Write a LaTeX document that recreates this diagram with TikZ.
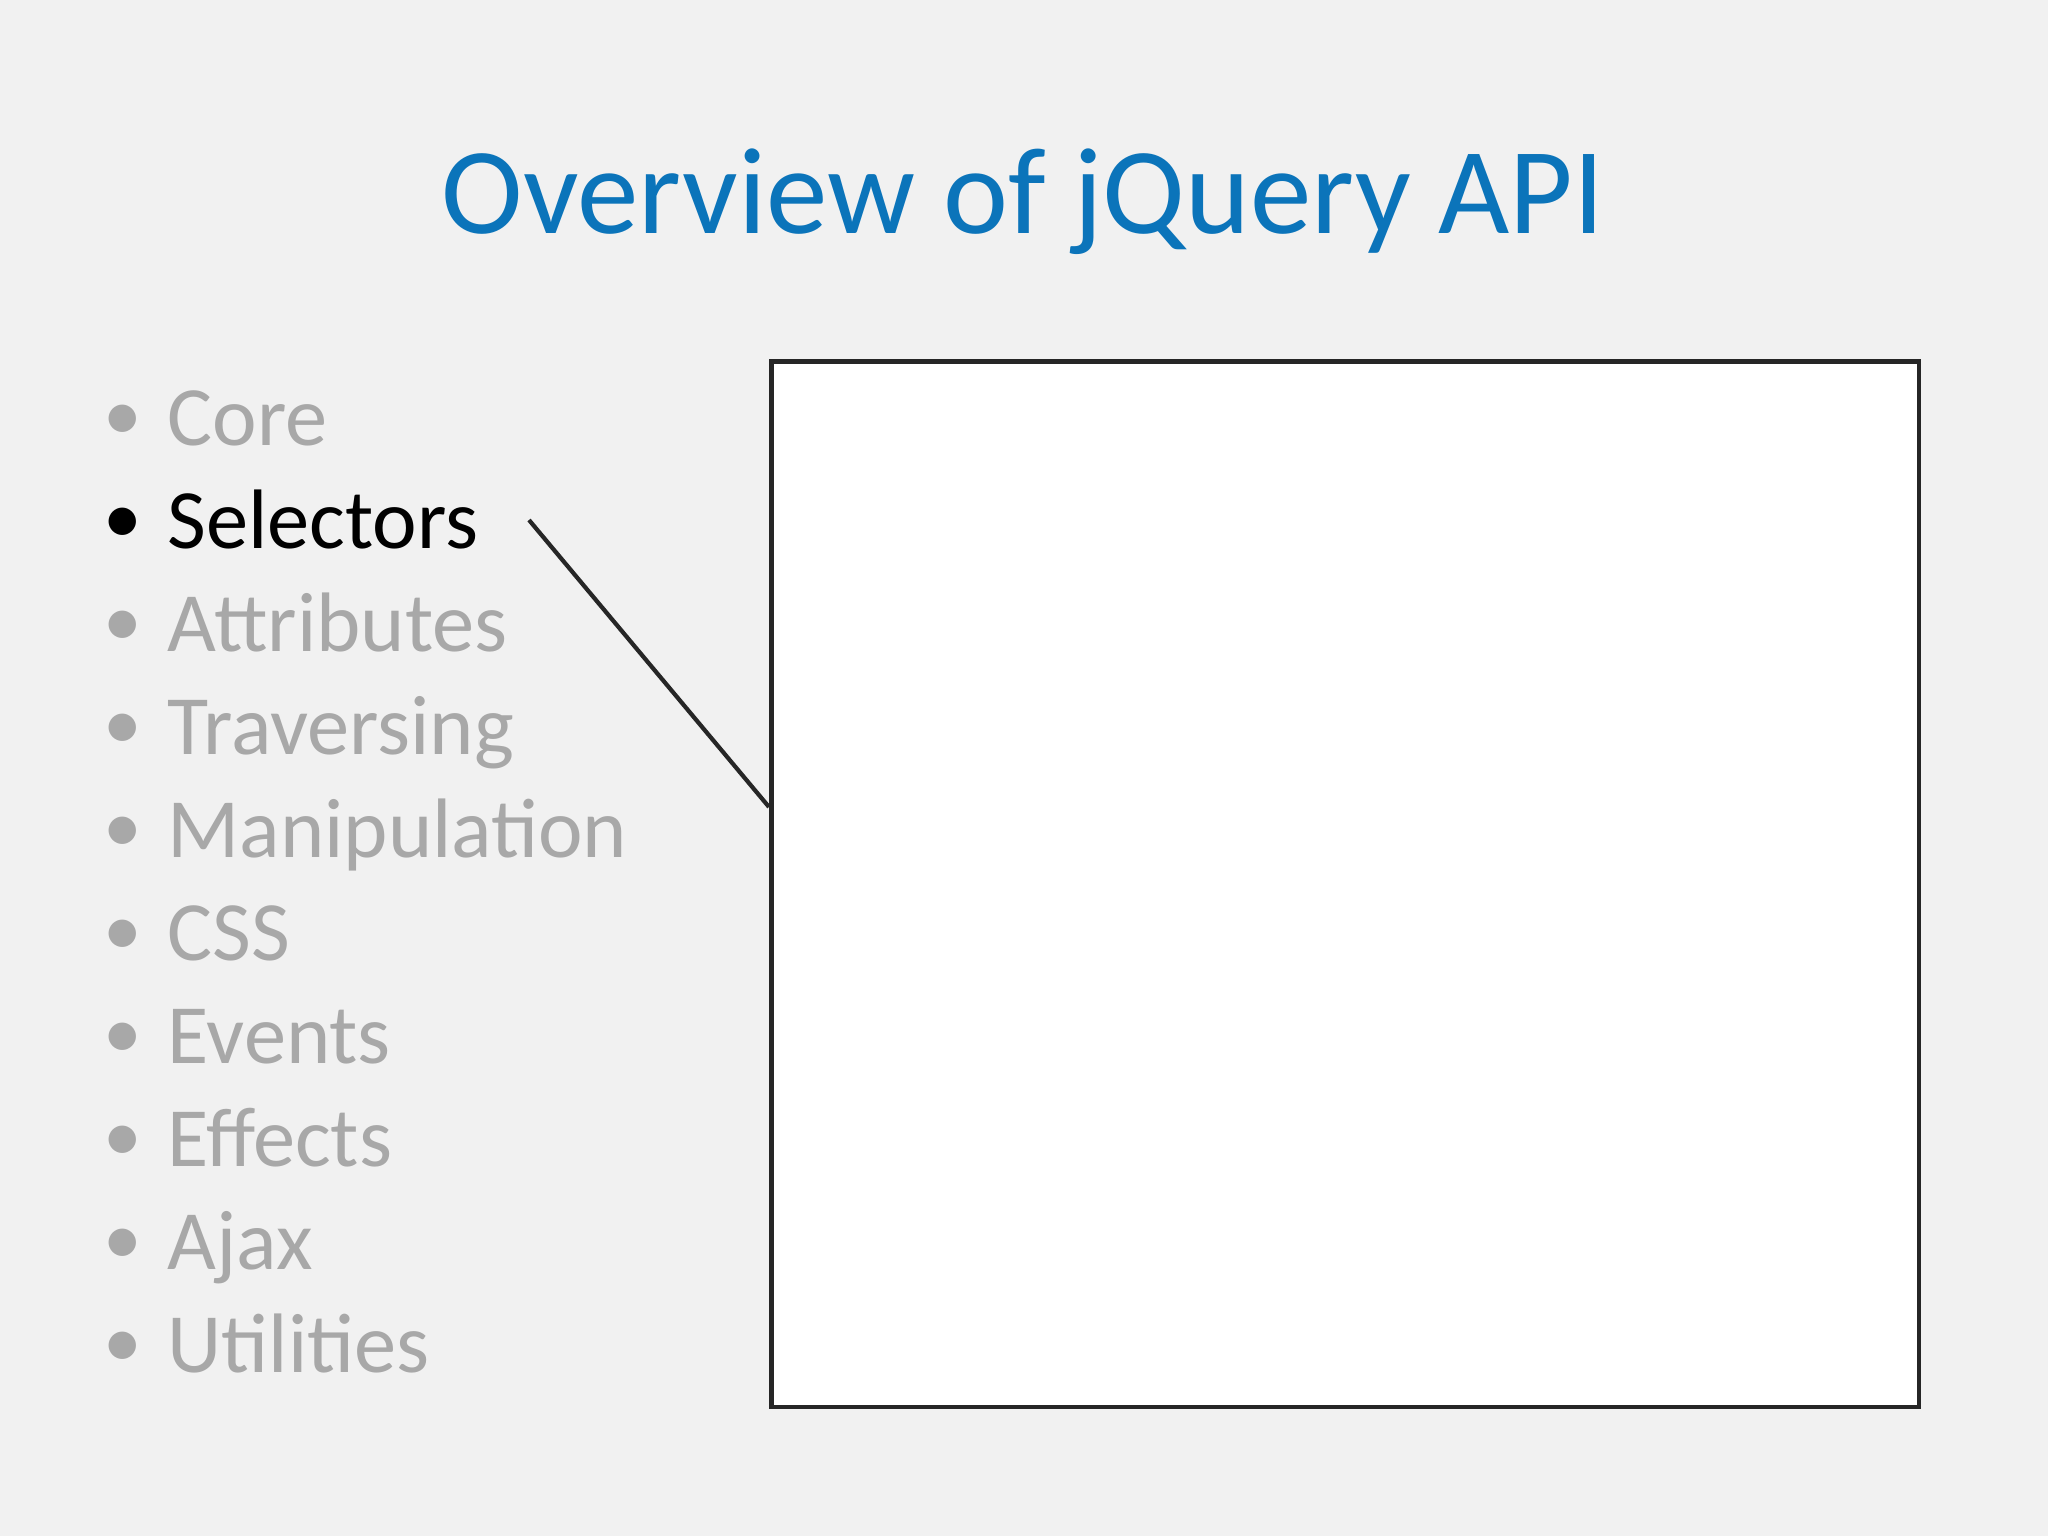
\documentclass[tikz,border=0pt]{standalone}
\usepackage{fontspec}
\setmainfont{Carlito}
\definecolor{bg}{HTML}{F1F1F1}
\definecolor{titleblue}{HTML}{0B74BA}
\definecolor{dimgray}{HTML}{A8A8A8}
\begin{document}
\begin{tikzpicture}[x=0.01cm,y=-0.01cm,
  item/.style={anchor=base west,font=\fontsize{24}{28}\selectfont,text=dimgray,inner sep=0pt},
  active/.style={item,text=black}]
\useasboundingbox (0,0) rectangle (2048,1536);
\fill[bg] (0,0) rectangle (2048,1536);
\node[font=\fontsize{35}{40}\selectfont,text=titleblue,anchor=base] (title) at (1023,233) {Overview of jQuery API};
\foreach \t [count=\i from 0] in {Core,Selectors,Attributes,Traversing,Manipulation,CSS,Events,Effects,Ajax,Utilities}{
  \ifnum\i=1
    \node[active] (it\i) at (103,{445+103*\i}) {\raisebox{0.05em}{\fontsize{22}{24}\selectfont\textbullet}\hspace{0.3em}\t};
  \else
    \node[item] (it\i) at (103,{445+103*\i}) {\raisebox{0.05em}{\fontsize{22}{24}\selectfont\textbullet}\hspace{0.3em}\t};
  \fi
}
\node[draw=black!85,line width=1.3pt,fill=white,minimum width=11.47cm,minimum height=10.45cm,anchor=north west,inner sep=0pt] (box) at (769,359) {};
\coordinate (ls) at (529,520);
\draw[line width=1.2pt,black!85] (ls) -- (box.west |- 0,807);
\end{tikzpicture}
\end{document}
